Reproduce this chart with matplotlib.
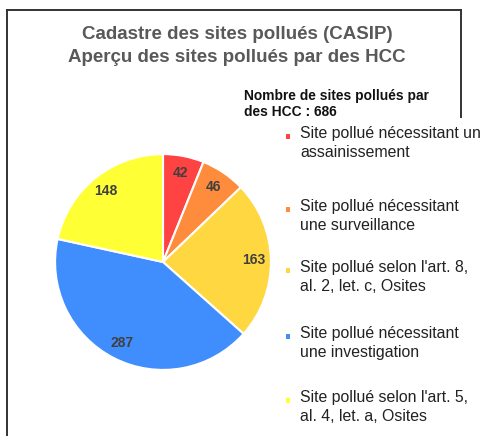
import matplotlib
matplotlib.use("Agg")
import matplotlib.pyplot as plt
from matplotlib.lines import Line2D
from matplotlib.patches import Rectangle

plt.rcParams['font.family'] = ['Liberation Sans', 'DejaVu Sans']

# data
labels = ["Site pollué nécessitant un\nassainissement",
          "Site pollué nécessitant\nune surveillance",
          "Site pollué selon l'art. 8,\nal. 2, let. c, Osites",
          "Site pollué nécessitant\nune investigation",
          "Site pollué selon l'art. 5,\nal. 4, let. a, Osites"]
values = [42, 46, 163, 287, 148]
colors = ["#FF4242", "#FF8C3C", "#FFD740", "#408EFD", "#FFFF36"]
total_text = "Nombre de sites pollués par\ndes HCC : 686"

W, H = 483, 436
fig = plt.figure(figsize=(W / 100, H / 100), dpi=100)

def fx(x):
    return x / W

def fy(y):
    return 1 - y / H

# frame
for xs, ys in [([7, 7], [10, 436]), ([7, 461], [10, 10]), ([461, 461], [10, 118])]:
    fig.add_artist(Line2D([fx(v) for v in xs], [fy(v) for v in ys],
                          color="#333333", lw=1.4, transform=fig.transFigure))

fig.text(fx(237), fy(46), "Cadastre des sites pollués (CASIP)\nAperçu des sites pollués par des HCC",
         ha="center", va="center", fontsize=13.5, fontweight="bold", color="#595959",
         linespacing=1.4)
fig.text(fx(244), fy(104), total_text, ha="left", va="center", fontsize=9.9,
         fontweight="bold", color="#111111", linespacing=1.22)

# pie
ax = fig.add_axes([fx(54), 65 / H, fx(218), 218 / H])
wedges, texts = ax.pie(values, colors=colors, startangle=90, counterclock=False,
                       labels=[str(v) for v in values], labeldistance=0.84,
                       wedgeprops=dict(edgecolor="white", linewidth=1.5))
for t in texts:
    t.set_fontsize(10)
    t.set_fontweight("bold")
    t.set_color("#404040")
    t.set_ha("center")
    t.set_va("center")
ax.set_xlim(-1.01, 1.01)
ax.set_ylim(-1.01, 1.01)
ax.set_aspect("equal")
ax.axis("off")

# legend panel
fig.add_artist(Rectangle((fx(282), 0), 1 - fx(282), fy(118), facecolor="white",
                         edgecolor="none", transform=fig.transFigure, zorder=3))
leg_y = [136, 209, 270, 336, 400]
for lab, c, y in zip(labels, colors, leg_y):
    fig.add_artist(Rectangle((fx(286), fy(y + 3)), fx(4), 5 / H, facecolor=c,
                             edgecolor="none", transform=fig.transFigure, zorder=4))
    fig.text(fx(300), fy(y - 10), lab, ha="left", va="top", fontsize=11.4,
             color="#222222", linespacing=1.36, zorder=5)

fig.savefig("out.png", dpi=100)
